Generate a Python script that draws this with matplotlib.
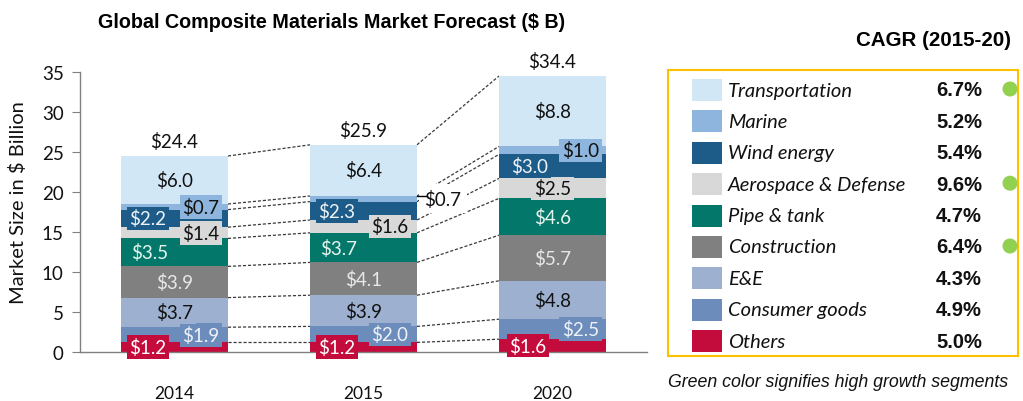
import matplotlib
matplotlib.use('Agg')
import matplotlib.pyplot as plt
from matplotlib.patches import Rectangle, Circle
import numpy as np

# ---------------- data ----------------
years = ['2014', '2015', '2020']
segments = ['Transportation', 'Marine', 'Wind energy', 'Aerospace & Defense',
            'Pipe & tank', 'Construction', 'E&E', 'Consumer goods', 'Others']
transportation = [6.0, 6.4, 8.8]
marine = [0.7, 0.7, 1.0]
wind_energy = [2.2, 2.3, 3.0]
aerospace_defense = [1.4, 1.6, 2.5]
pipe_tank = [3.5, 3.7, 4.6]
construction = [3.9, 4.1, 5.7]
e_and_e = [3.7, 3.9, 4.8]
consumer_goods = [1.9, 2.0, 2.5]
others = [1.2, 1.2, 1.6]
totals = [24.4, 25.9, 34.4]
cagr = ['6.7%', '5.2%', '5.4%', '9.6%', '4.7%', '6.4%', '4.3%', '4.9%', '5.0%']
high_growth = [True, False, False, True, False, True, False, False, False]

# ---------------- style ----------------
colors = {
    'Transportation': '#D2E7F6',
    'Marine': '#8DB5DD',
    'Wind energy': '#1D5C88',
    'Aerospace & Defense': '#D8D8D8',
    'Pipe & tank': '#03786A',
    'Construction': '#808080',
    'E&E': '#9DB0D0',
    'Consumer goods': '#6C8CBC',
    'Others': '#C30B3C',
}
text_colors = {
    'Transportation': '#111111', 'Marine': '#111111', 'Wind energy': '#EEF3F8',
    'Aerospace & Defense': '#111111', 'Pipe & tank': '#E6F4EE', 'Construction': '#E8E8E8',
    'E&E': '#111111', 'Consumer goods': '#EEF2F8', 'Others': '#FFFFFF',
}
# horizontal label offsets (fraction of category spacing) per segment per year
x_offsets = {
    'Transportation': [0, 0, 0],
    'Marine': [0.14, 0.42, 0.15],
    'Wind energy': [-0.14, -0.14, -0.12],
    'Aerospace & Defense': [0.14, 0.14, 0],
    'Pipe & tank': [-0.13, -0.13, 0],
    'Construction': [0, 0, 0],
    'E&E': [0, 0, 0],
    'Consumer goods': [0.14, 0.14, 0.15],
    'Others': [-0.14, -0.14, -0.13],
}
values = {
    'Transportation': transportation, 'Marine': marine, 'Wind energy': wind_energy,
    'Aerospace & Defense': aerospace_defense, 'Pipe & tank': pipe_tank,
    'Construction': construction, 'E&E': e_and_e, 'Consumer goods': consumer_goods,
    'Others': others,
}

LAB = 'Lato'
ARIAL = 'Liberation Sans'
W, H = 1023, 402

fig = plt.figure(figsize=(W / 100, H / 100), dpi=100)
ax = fig.add_axes([80 / W, 49 / H, 567 / W, 280 / H])

x = np.arange(len(years))
width = 0.566
bottom = np.zeros(len(years))
stack_order = segments[::-1]
bottoms = {}
tops = []
for name in stack_order:
    v = np.array(values[name])
    ax.bar(x, v, width, bottom=bottom, color=colors[name], edgecolor='none', zorder=2)
    bottoms[name] = bottom.copy()
    bottom = bottom + v
    tops.append(bottom.copy())

# connectors
for t in tops:
    for i in range(len(years) - 1):
        ax.plot([x[i] + width / 2, x[i + 1] - width / 2], [t[i], t[i + 1]],
                color='#3A3A3A', lw=0.9, ls=(0, (2.5, 1.5)), zorder=1)

# segment labels
for name in stack_order:
    v = values[name]
    for i in range(len(years)):
        cx = x[i] + x_offsets[name][i]
        cy = bottoms[name][i] + v[i] / 2
        outside = abs(x_offsets[name][i]) > width / 2
        if outside:
            ax.plot([x[i] + width / 2, x[i] + width / 2 + 0.055], [cy + 0.4, cy + 0.4],
                    color='black', lw=1.0, zorder=5)
            bbox = dict(boxstyle='square,pad=0.3', fc='white', ec='none')
            tc = '#111111'
        else:
            bbox = dict(boxstyle='square,pad=0.15', fc=colors[name], ec='none')
            tc = text_colors[name]
        ax.text(cx, cy, f'${v[i]:.1f}', ha='center', va='center', fontsize=13.5,
                family=LAB, color=tc, bbox=bbox, zorder=4)

# totals
for i in range(len(years)):
    ax.text(x[i], tops[-1][i] + 1.9, f'${totals[i]:.1f}', ha='center', va='center',
            fontsize=13.5, family=LAB, color='#111111', clip_on=False, zorder=4)

ax.set_xlim(-0.5, 2.5)
ax.set_ylim(0, 35)
ax.set_yticks(range(0, 36, 5))
ax.set_xticks(x)
ax.set_xticklabels(years)
for s in ['top', 'right']:
    ax.spines[s].set_visible(False)
for s in ['left', 'bottom']:
    ax.spines[s].set_color('#808080')
    ax.spines[s].set_linewidth(1.0)
ax.tick_params(axis='y', length=5.8, color='#808080', pad=6, labelsize=13.5)
ax.tick_params(axis='x', length=0, pad=24, labelsize=12.5)
for lab in ax.get_xticklabels() + ax.get_yticklabels():
    lab.set_family(LAB)
    lab.set_color('#111111')

fig.text(18 / W, 1 - 203 / H, 'Market Size in $ Billion', rotation=90, ha='center',
         va='center', fontsize=14.5, family=LAB, color='#111111')

fig.text(332 / W, 1 - 22 / H, 'Global Composite Materials Market Forecast ($ B)',
         ha='center', va='center', fontsize=14.2, fontweight='bold', family=ARIAL)

fig.text(1011 / W, 1 - 41 / H, 'CAGR (2015-20)', ha='right', va='center',
         fontsize=14.8, fontweight='bold', family=ARIAL)

# legend panel in pixel space
lg = fig.add_axes([0, 0, 1, 1])
lg.set_xlim(0, W)
lg.set_ylim(H, 0)
lg.axis('off')
lg.patch.set_visible(False)
lg.add_patch(Rectangle((668, 71), 350, 286, fill=False, ec='#FFC000', lw=1.5))
for k, name in enumerate(segments):
    yc = 91 + k * 31.4
    lg.add_patch(Rectangle((692, yc - 11), 30, 22, fc=colors[name], ec='none'))
    lg.text(728, yc, name, ha='left', va='center', fontsize=14.5, family=LAB,
            style='italic', color='#111111')
    lg.text(982, yc, cagr[k], ha='right', va='center', fontsize=14.5, family=ARIAL,
            fontweight='bold', color='#111111')
    if high_growth[k]:
        lg.add_patch(Circle((1010, yc - 1), 7.5, fc='#92D050', ec='none'))

lg.text(668, 383, 'Green color signifies high growth segments', ha='left', va='center',
        fontsize=12.8, family=ARIAL, style='italic', color='#111111')

fig.savefig('out.png', dpi=100)
